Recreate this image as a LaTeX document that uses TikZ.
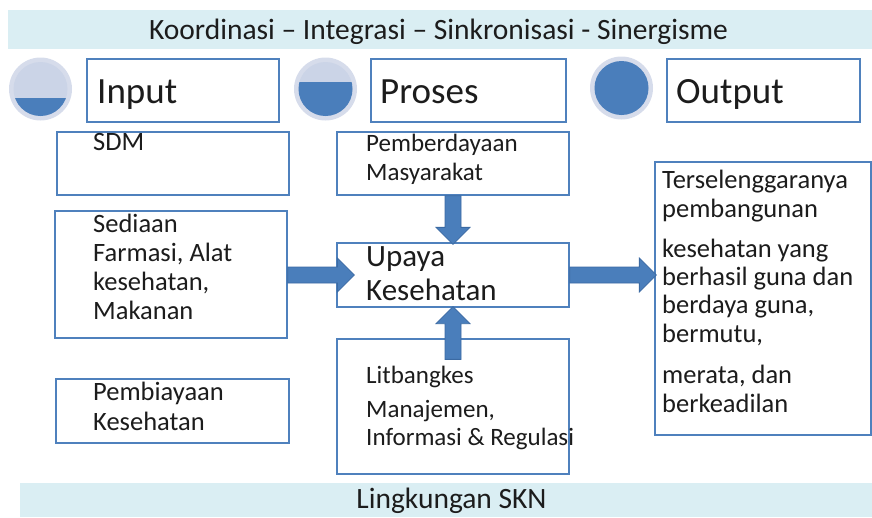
\documentclass[tikz,border=0pt]{standalone}
\usepackage{fontspec}
\setmainfont{Carlito}
\usetikzlibrary{calc,fit}

\definecolor{bandfill}{HTML}{DAEEF3}
\definecolor{boxline}{HTML}{4F81BD}
\definecolor{arrowfill}{HTML}{4A7EBB}
\definecolor{arrowline}{HTML}{3B6AA3}
\definecolor{ringfill}{HTML}{D6DCEB}
\definecolor{discfill}{HTML}{CBD4E7}
\definecolor{ink}{HTML}{1C1C1C}

% block arrows: start point, tip point (shaft 16, head 34 wide, 17 long)
\newcommand{\hblock}[2]{%
  \filldraw[blockarrow] let \p1=(#1), \p2=(#2) in
    (\x1,\y1+8pt) -- (\x2-17pt,\y1+8pt) -- (\x2-17pt,\y1+17pt) -- (\x2,\y1)
    -- (\x2-17pt,\y1-17pt) -- (\x2-17pt,\y1-8pt) -- (\x1,\y1-8pt) -- cycle;}
\newcommand{\downblock}[2]{%
  \filldraw[blockarrow] let \p1=(#1), \p2=(#2) in
    (\x1-8pt,\y1) -- (\x1-8pt,\y2+17pt) -- (\x1-17pt,\y2+17pt) -- (\x1,\y2)
    -- (\x1+17pt,\y2+17pt) -- (\x1+8pt,\y2+17pt) -- (\x1+8pt,\y1) -- cycle;}
\newcommand{\upblock}[2]{%
  \filldraw[blockarrow] let \p1=(#1), \p2=(#2) in
    (\x1-8pt,\y1) -- (\x1-8pt,\y2-17pt) -- (\x1-17pt,\y2-17pt) -- (\x1,\y2)
    -- (\x1+17pt,\y2-17pt) -- (\x1+8pt,\y2-17pt) -- (\x1+8pt,\y1) -- cycle;}

% stage indicator disc: centre x, centre y, level from which it is filled blue
\newcommand{\stagedisc}[3]{%
  \fill[ringfill] (#1,#2) circle[radius=31.5];
  \fill[discfill] (#1,#2) circle[radius=27];
  \begin{scope}
    \clip (#1,#2) circle[radius=27];
    \fill[arrowfill] ({#1-40},#3) rectangle ({#1+40},{#2+40});
  \end{scope}}

\begin{document}
\begin{tikzpicture}[x=1pt,y=-1pt,
  box/.style={draw=boxline, line width=1.3pt, fill=white, inner sep=0pt},
  band/.style={fill=bandfill, inner sep=0pt},
  blockarrow/.style={fill=arrowfill, draw=arrowline, line width=0.8pt, line join=miter},
  bandtxt/.style={anchor=base, inner sep=0pt, text=ink, font=\fontsize{29.5}{31}\selectfont},
  headtxt/.style={anchor=base west, inner sep=0pt, text=ink, font=\fontsize{37}{40}\selectfont},
  lefttxt/.style={anchor=base west, inner sep=0pt, text=ink, font=\fontsize{26.5}{29}\selectfont},
  midtxt/.style={anchor=base west, inner sep=0pt, text=ink, font=\fontsize{25}{29}\selectfont},
  uptxt/.style={anchor=base west, inner sep=0pt, text=ink, font=\fontsize{31}{33}\selectfont},
  outtxt/.style={anchor=base west, inner sep=0pt, text=ink, font=\fontsize{26.5}{29}\selectfont}]

\useasboundingbox (0,0) rectangle (872,517);

% bands
\node[band, fit={(8,10) (872,49)}] (topband) {};
\node[bandtxt] (toptext) at (438.5,39) {Koordinasi – Integrasi – Sinkronisasi - Sinergisme};
\node[band, fit={(20,483) (872,517)}] (bottomband) {};
\node[bandtxt] (bottomtext) at (451.5,508) {Lingkungan SKN};

% stage discs
\stagedisc{40.5}{89}{98}
\stagedisc{325.5}{89}{82}
\stagedisc{621.5}{88}{40}

% stage headers
\node[box, fit={(87,59) (279,122)}] (inputbox) {};
\node[headtxt] (inputtext) at (97,103) {Input};
\node[box, fit={(371,59) (566,122)}] (prosesbox) {};
\node[headtxt] (prosestext) at (380,103) {Proses};
\node[box, fit={(667,59) (860,122)}] (outputbox) {};
\node[headtxt] (outputtext) at (676,103) {Output};

% input column
\node[box, fit={(57,132) (289,195)}] (sdm) {};
\node[lefttxt] (sdm1) at (93,150) {SDM};
\node[box, fit={(55,211) (287,338)}] (sediaan) {};
\node[lefttxt] (sed1) at (93,232) {Sediaan};
\node[lefttxt] (sed2) at (93,261) {Farmasi, Alat};
\node[lefttxt] (sed3) at (93,290) {kesehatan,};
\node[lefttxt] (sed4) at (93,319) {Makanan};
\node[box, fit={(56,379) (289,443)}] (biaya) {};
\node[lefttxt] (bia1) at (93,400) {Pembiayaan};
\node[lefttxt] (bia2) at (93,430) {Kesehatan};

% process column
\node[box, fit={(337,132) (569,195)}] (pemb) {};
\node[midtxt] (pem1) at (366,151) {Pemberdayaan};
\node[midtxt] (pem2) at (366,180) {Masyarakat};
\node[box, fit={(337,243) (569,307)}] (upaya) {};
\node[uptxt] (upa1) at (366,266) {Upaya};
\node[uptxt] (upa2) at (366,300) {Kesehatan};
\node[box, fit={(337,339) (569,474)}] (lit) {};
\node[midtxt] (lit1) at (366,383) {Litbangkes};
\node[midtxt] (lit2) at (366,417) {Manajemen,};
\node[midtxt] (lit3) at (366,445) {Informasi \& Regulasi};

% output column
\node[box, fit={(655,162) (871,435)}] (result) {};
\node[outtxt] (res1) at (662,188) {Terselenggaranya};
\node[outtxt] (res2) at (662,217) {pembangunan};
\node[outtxt] (res3) at (662,257) {kesehatan yang};
\node[outtxt] (res4) at (662,285) {berhasil guna dan};
\node[outtxt] (res5) at (662,313) {berdaya guna,};
\node[outtxt] (res6) at (662,342) {bermutu,};
\node[outtxt] (res7) at (662,383) {merata, dan};
\node[outtxt] (res8) at (662,412) {berkeadilan};

% connectors
\coordinate (inStart) at (sediaan.east |- upaya.west);
\coordinate (inTip) at ($(upaya.west)+(18,0)$);
\coordinate (outTip) at ($(upaya.east -| result.west)+(2,0)$);
\coordinate (downTip) at ($(upaya.north)+(0,2)$);
\coordinate (upStart) at ($(lit.north)+(0,21)$);
\coordinate (upTip) at ($(upaya.south)+(0,-1)$);

\hblock{inStart}{inTip}
\hblock{upaya.east}{outTip}
\downblock{pemb.south}{downTip}
\upblock{upStart}{upTip}

\end{tikzpicture}
\end{document}
